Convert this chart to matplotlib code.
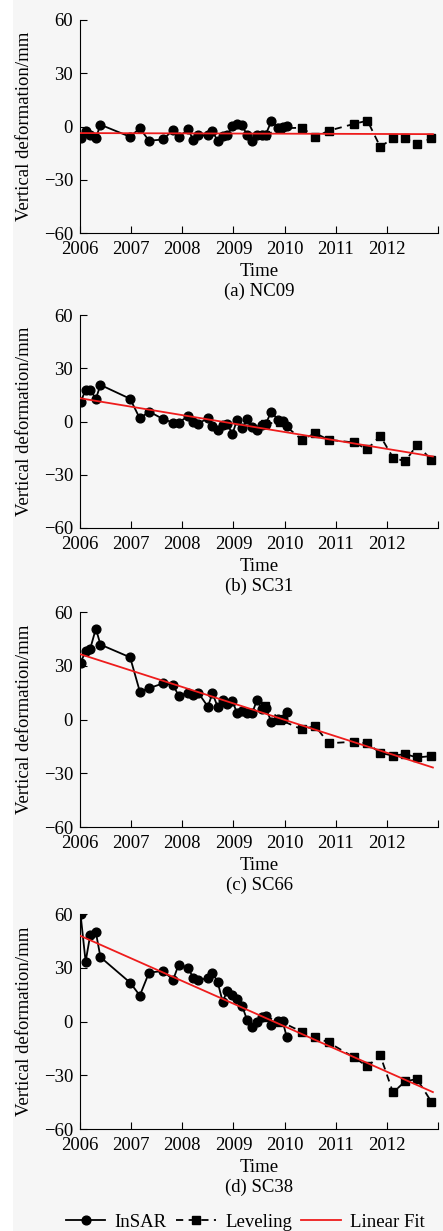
import matplotlib
import numpy as np
from matplotlib import pyplot as plt
from matplotlib.patches import Rectangle

matplotlib.use("Agg")

plt.rcParams["font.family"] = ["Liberation Serif", "DejaVu Serif"]
plt.rcParams["font.size"] = 13.5

# InSAR acquisition epochs (decimal years), shared by all stations
insar_t = [2006.01, 2006.11, 2006.20, 2006.31, 2006.40, 2006.98, 2007.17, 2007.35,
           2007.63, 2007.82, 2007.93, 2008.12, 2008.21, 2008.31, 2008.50, 2008.59,
           2008.69, 2008.79, 2008.88, 2008.98, 2009.07, 2009.17, 2009.27, 2009.37,
           2009.46, 2009.56, 2009.63, 2009.74, 2009.88, 2009.96, 2010.04]

# leveling survey epochs
level_t = [2009.62, 2009.92, 2010.34, 2010.60, 2010.86, 2011.35,
           2011.62, 2011.87, 2012.12, 2012.36, 2012.59, 2012.87]

stations = ["(a) NC09", "(b) SC31", "(c) SC66", "(d) SC38"]

insar_nc09 = [-6.5, -2.4, -5, -6.5, 1, -5.8, -1, -8, -7.3, -1.8, -5.8, -1.6, -7.6, -5, -5, -2.7,
              -8, -5.4, -5, 0.3, 1.4, 0.7, -5, -8, -4.6, -4.6, -4.6, 2.9, -0.8, -0.5, 0.1]
insar_sc31 = [10.9, 17.8, 17.8, 12.8, 20.6, 12.8, 1.7, 5.6, 1.3, -0.6, -0.6, 3.2, -0.2, -1.3, 1.9, -2.8,
              -4.7, -1.9, -1.3, -7.1, 0.9, -3.9, 1.3, -3.2, -4.7, -1.9, -1.5, 5.6, 0.6, 0.4, -2.4]
insar_sc66 = [31.8, 38, 39.5, 50.7, 41.8, 34.7, 15.6, 17.5, 20.2, 19.3, 13.2, 15, 13.7, 15, 7.2, 14.6,
              7.2, 10.9, 8.7, 10.5, 3.5, 4.8, 3.5, 3.8, 10.9, 5.7, 6.5, -1.2, 0.1, 0.5, 4.2]
insar_sc38 = [60, 33.4, 48.3, 49.8, 35.9, 21.7, 14.5, 27.3, 28.2, 23.2, 31.8, 29.9, 24.3, 23, 24.3, 27.3,
              22.1, 11, 17.3, 14.9, 12.8, 8.7, 0.6, -3.2, 0, 2.4, 2.8, -1.9, 0.4, 0.4, -8.4]

level_nc09 = [-5, -1, -0.7, -6, -2.4, 1.4, 3.3, -11.4, -6.7, -6.7, -9.9, -6.7]
level_sc31 = [-1.5, 0, -10.3, -6.6, -10.3, -11.8, -15.6, -8.1, -20.3, -22.5, -13.1, -21.6]
level_sc66 = [7.5, -0.3, -5.5, -3.6, -13.3, -12.4, -13.3, -18.6, -20.2, -19.3, -21.2, -20.4]
level_sc38 = [2.4, 0, -5.8, -8.7, -11.7, -19.9, -25.1, -18.8, -39.6, -33.4, -32.1, -44.8]

# linear fit evaluated at the ends of the record
fit_t = [2006.0, 2012.9]
fit_start = [-3.7, 13.1, 36.5, 47.9]
fit_end = [-4.3, -19.7, -26.8, -39.4]

insar_all = [insar_nc09, insar_sc31, insar_sc66, insar_sc38]
level_all = [level_nc09, level_sc31, level_sc66, level_sc38]

W, H = 443, 1231
fig = plt.figure(figsize=(W / 100, H / 100), dpi=100, facecolor="#f6f6f6")
fig.patches.append(Rectangle((0, 0), 13 / W, 1, transform=fig.transFigure,
                             facecolor="white", edgecolor="none", zorder=-1))

# axes boxes in pixels: (top, bottom)
boxes = [(20, 233), (315, 528), (612, 827), (914, 1129)]
left, right = 80, 438

for i, (top, bot) in enumerate(boxes):
    ax = fig.add_axes([left / W, 1 - bot / H, (right - left) / W, (bot - top) / H])
    ax.set_facecolor("none")

    ax.plot(insar_t, insar_all[i], "-o", color="black", lw=1.3, ms=6.3,
            label="InSAR", zorder=3)
    ax.plot(level_t, level_all[i], "--s", color="black", lw=1.3, ms=5.6,
            dashes=(4, 3), label="Leveling", zorder=3)
    ax.plot(fit_t, [fit_start[i], fit_end[i]], "-", color="#ee1c1c", lw=1.3,
            label="Linear Fit", zorder=4)

    ax.set_xlim(2006, 2013)
    ax.set_ylim(-60, 60)
    ax.set_xticks(np.arange(2006, 2014))
    ax.set_xticklabels([str(y) for y in range(2006, 2013)] + [""])
    ax.set_yticks([-60, -30, 0, 30, 60])
    ax.tick_params(direction="in", length=5, width=0.8)
    ax.tick_params(axis="x", pad=6)
    ax.tick_params(axis="y", pad=5)
    for s in ["top", "right"]:
        ax.spines[s].set_visible(False)
    for s in ["left", "bottom"]:
        ax.spines[s].set_linewidth(0.8)

    ax.set_ylabel("Vertical deformation/mm", labelpad=8)
    ax.text(0.5, -39 / (bot - top), "Time", transform=ax.transAxes,
            ha="center", va="center")
    ax.text(0.5, -58 / (bot - top), stations[i], transform=ax.transAxes,
            ha="center", va="center")

handles, labels = ax.get_legend_handles_labels()
fig.legend(handles, labels, loc="center left", bbox_to_anchor=(66 / W, 1 - 1222 / H),
           ncol=3, frameon=False, handlelength=2.1, handletextpad=0.5,
           columnspacing=0.5, numpoints=1, borderaxespad=0, borderpad=0)

fig.savefig("out.png", dpi=100, facecolor=fig.get_facecolor())
